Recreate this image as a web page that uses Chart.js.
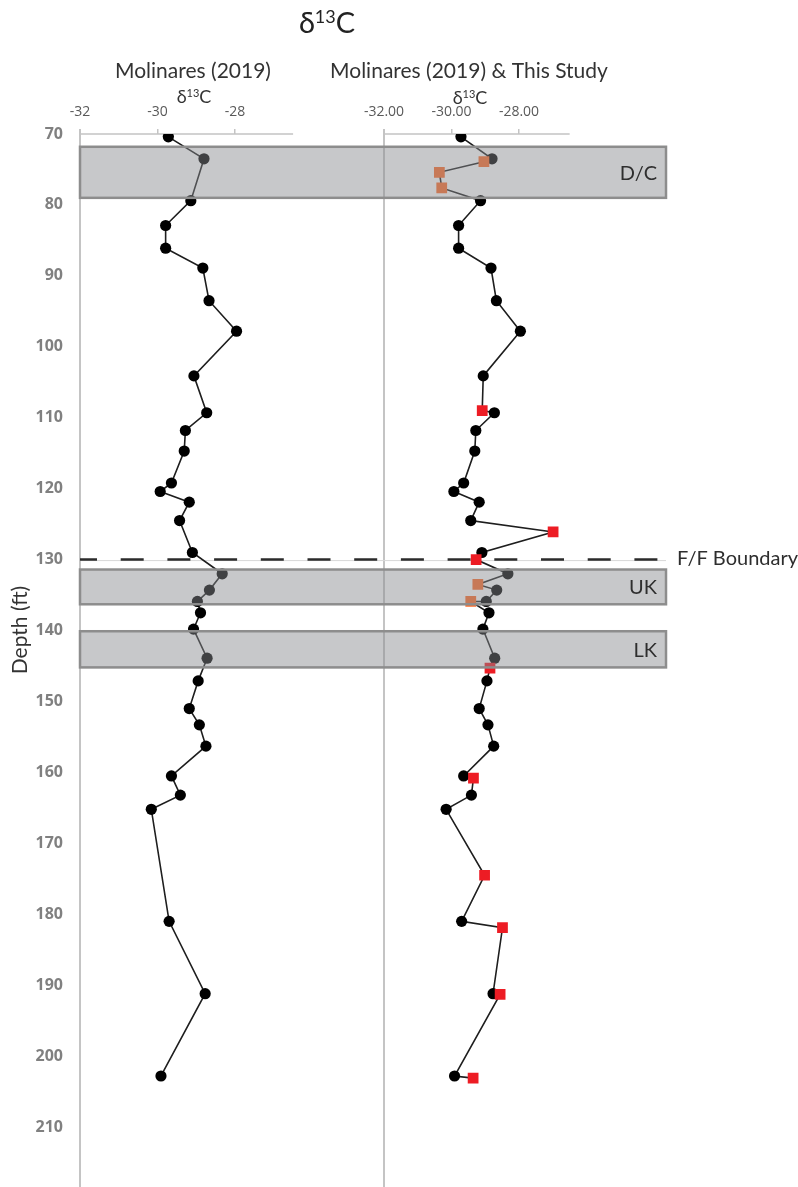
<!DOCTYPE html>
<html>
<head>
<meta charset="utf-8">
<title>δ13C profile</title>
<script src="https://cdn.jsdelivr.net/npm/chart.js@4.4.1/dist/chart.umd.min.js"></script>
<style>
    html, body { margin: 0; padding: 0; background: #fff; }
    #contenedor { position: relative; width: 798px; height: 1187px; }
</style>
</head>
<body>
<div id="contenedor"><canvas id="grafico-d13c"></canvas></div>
<script>
// Molinares (2019) data: depth (ft) and d13C
const molinaresDepth = [70.4, 73.5, 79.4, 82.9, 86.1, 88.9, 93.5, 97.8, 104.1, 109.3, 111.8, 114.7,
    119.2, 120.4, 121.9, 124.5, 129.0, 132.0, 134.3, 135.9, 137.5, 139.8, 143.9, 147.1,
    151.0, 153.3, 156.3, 160.5, 163.2, 165.2, 181.0, 191.2, 202.8];
const molinaresD13C = [-29.72, -28.80, -29.14, -29.79, -29.79, -28.83, -28.67, -27.96, -29.06, -28.73, -29.28, -29.31,
    -29.64, -29.93, -29.18, -29.43, -29.10, -28.33, -28.66, -28.97, -28.89, -29.07, -28.72, -28.95,
    -29.18, -28.92, -28.75, -29.64, -29.41, -30.16, -29.70, -28.77, -29.91];

// This study data
const studyDepth = [73.9, 75.4, 77.6, 109.0, 126.1, 130.0, 133.5, 135.9, 145.3, 160.8, 174.5, 181.9, 191.3, 203.1];
const studyD13C = [-29.04, -30.36, -30.29, -29.09, -26.99, -29.27, -29.22, -29.43, -28.86, -29.35, -29.02, -28.49, -28.56, -29.36];

// Shaded intervals
const zoneNames = ['D/C', 'UK', 'LK'];
const zoneTop = [71.8, 131.4, 140.1];
const zoneBottom = [79.0, 136.3, 145.2];

// F/F boundary
const boundaryDepth = 130.0;
const boundaryLabel = 'F/F Boundary';

// Tick labels
const depthTicks = [70, 80, 90, 100, 110, 120, 130, 140, 150, 160, 170, 180, 190, 200, 210];
const leftTicks = [-32, -30, -28];
const rightTicks = [-32.00, -30.00, -28.00];

// Texts
const mainTitle = ['δ', '13', 'C'];
const leftHeading = 'Molinares (2019)';
const rightHeading = 'Molinares (2019) & This Study';

const FONT = 'Lato, "Open Sans", sans-serif';

// Is a depth inside a shaded interval?
function enZona(depth) {
    return zoneTop.some((t, i) => depth >= t && depth <= zoneBottom[i]);
}

// Draw "δ13C" with a raised 13
function dibujarDelta(ctx, cx, baseline, size, color) {
    const base = `${size}px ${FONT}`;
    const sup = `${Math.round(size * 0.62)}px ${FONT}`;
    ctx.font = base;
    const wd = ctx.measureText(mainTitle[0]).width;
    const wc = ctx.measureText(mainTitle[2]).width;
    ctx.font = sup;
    const ws = ctx.measureText(mainTitle[1]).width;
    let x = cx - (wd + ws + wc) / 2;
    ctx.fillStyle = color;
    ctx.textAlign = 'left';
    ctx.textBaseline = 'alphabetic';
    ctx.font = base;
    ctx.fillText(mainTitle[0], x, baseline);
    x += wd;
    ctx.font = sup;
    ctx.fillText(mainTitle[1], x, baseline - size * 0.36);
    x += ws;
    ctx.font = base;
    ctx.fillText(mainTitle[2], x, baseline);
}

// Plugin for axis lines, boundary, bands and titles
const panelesPlugin = {
    id: 'paneles',
    beforeDatasetsDraw(chart) {
        const { ctx, chartArea, scales } = chart;
        const xl = scales.xl, xr = scales.xr, y = scales.y;
        ctx.save();

        // Vertical panel lines
        ctx.strokeStyle = '#c4c4c4';
        ctx.lineWidth = 2;
        ctx.beginPath();
        [xl.getPixelForValue(-32), xr.getPixelForValue(-32)].forEach(px => {
            ctx.moveTo(px, chartArea.top - 5);
            ctx.lineTo(px, chart.height);
        });
        ctx.stroke();

        // Top axis lines
        ctx.lineWidth = 1.5;
        ctx.beginPath();
        ctx.moveTo(xl.getPixelForValue(-32), chartArea.top);
        ctx.lineTo(xl.getPixelForValue(-26.5), chartArea.top);
        ctx.moveTo(xr.getPixelForValue(-32), chartArea.top);
        ctx.lineTo(xr.getPixelForValue(-26.5), chartArea.top);
        ctx.stroke();

        // F/F boundary
        const yB = y.getPixelForValue(boundaryDepth);
        ctx.strokeStyle = '#d8d8d8';
        ctx.lineWidth = 1;
        ctx.beginPath();
        ctx.moveTo(chartArea.left, yB + 1);
        ctx.lineTo(chartArea.right, yB + 1);
        ctx.stroke();
        ctx.strokeStyle = '#2b2b2b';
        ctx.lineWidth = 2.5;
        ctx.setLineDash([23, 23.7]);
        ctx.lineDashOffset = 6;
        ctx.beginPath();
        ctx.moveTo(chartArea.left, yB);
        ctx.lineTo(chartArea.right - 8, yB);
        ctx.stroke();
        ctx.setLineDash([]);
        ctx.restore();
    },
    afterDatasetsDraw(chart) {
        const { ctx, chartArea, scales } = chart;
        const y = scales.y;
        ctx.save();

        // Shaded intervals drawn over the data
        zoneNames.forEach((name, i) => {
            const top = y.getPixelForValue(zoneTop[i]);
            const bottom = y.getPixelForValue(zoneBottom[i]);
            const left = chartArea.left;
            const right = chartArea.right;
            ctx.fillStyle = 'rgba(136, 138, 142, 0.47)';
            ctx.fillRect(left, top, right - left, bottom - top);
            ctx.strokeStyle = '#8d8d8d';
            ctx.lineWidth = 2.5;
            ctx.strokeRect(left, top, right - left, bottom - top);
            ctx.fillStyle = '#2e2e2e';
            ctx.font = `20px ${FONT}`;
            ctx.textAlign = 'right';
            ctx.textBaseline = 'middle';
            ctx.fillText(name, right - 9, (top + bottom) / 2 + 1);
        });

        // Boundary label
        ctx.fillStyle = '#2e2e2e';
        ctx.font = `20px ${FONT}`;
        ctx.textAlign = 'left';
        ctx.textBaseline = 'middle';
        ctx.fillText(boundaryLabel, chartArea.right + 11, y.getPixelForValue(boundaryDepth) - 1);
        ctx.restore();
    },
    afterDraw(chart) {
        const { ctx } = chart;
        ctx.save();

        // Main title
        dibujarDelta(ctx, 327, 33, 29, '#222');

        // Panel headings
        ctx.fillStyle = '#333';
        ctx.font = `21px ${FONT}`;
        ctx.textAlign = 'center';
        ctx.textBaseline = 'alphabetic';
        ctx.fillText(leftHeading, 193, 78);
        ctx.fillText(rightHeading, 469, 78);

        // Axis titles
        dibujarDelta(ctx, 194, 103, 18, '#333');
        dibujarDelta(ctx, 470, 104, 18, '#333');

        // Depth title
        ctx.translate(20, 630);
        ctx.rotate(-Math.PI / 2);
        ctx.fillStyle = '#333';
        ctx.font = `21px ${FONT}`;
        ctx.textAlign = 'center';
        ctx.textBaseline = 'middle';
        ctx.fillText('Depth (ft)', 0, 0);
        ctx.restore();
    }
};

// Build datasets
const puntosMolinares = molinaresDepth.map((d, i) => ({ x: molinaresD13C[i], y: d }));
const puntosEstudio = studyDepth.map((d, i) => ({ x: studyD13C[i], y: d }));
const puntosCombinados = puntosMolinares.concat(puntosEstudio).sort((a, b) => a.y - b.y);

// Shared tick styling for the top axes
const ejeSuperior = {
    type: 'linear',
    position: 'top',
    stack: 'panels',
    afterFit: scale => { scale.height = 30; },
    grid: { drawOnChartArea: false, drawTicks: true, tickLength: 5, color: '#c4c4c4', lineWidth: 1.5 },
    border: { display: false }
};

new Chart(document.getElementById('grafico-d13c'), {
    type: 'scatter',
    data: {
        datasets: [
            {
                label: leftHeading,
                data: puntosMolinares,
                xAxisID: 'xl',
                yAxisID: 'y',
                showLine: true,
                borderColor: '#1e1e1e',
                borderWidth: 1.6,
                pointRadius: 5.6,
                pointBackgroundColor: '#000',
                pointBorderWidth: 0,
                order: 2
            },
            {
                label: 'line',
                data: puntosCombinados,
                xAxisID: 'xr',
                yAxisID: 'y',
                showLine: true,
                borderColor: '#1e1e1e',
                borderWidth: 1.6,
                pointRadius: 0,
                order: 3
            },
            {
                label: 'Molinares (2019) right',
                data: puntosMolinares,
                xAxisID: 'xr',
                yAxisID: 'y',
                showLine: false,
                pointRadius: 5.6,
                pointBackgroundColor: '#000',
                pointBorderWidth: 0,
                order: 2
            },
            {
                label: 'This Study',
                data: puntosEstudio,
                xAxisID: 'xr',
                yAxisID: 'y',
                showLine: false,
                pointStyle: 'rect',
                pointRadius: 7.6,
                pointBorderWidth: 0,
                pointBackgroundColor: ctx => enZona(studyDepth[ctx.dataIndex]) ? '#ff6a26' : '#ed1c24',
                order: 1
            }
        ]
    },
    options: {
        responsive: true,
        maintainAspectRatio: false,
        animation: false,
        events: [],
        layout: { padding: { top: 104, right: 132, bottom: 0, left: 0 } },
        plugins: {
            legend: { display: false },
            tooltip: { enabled: false }
        },
        scales: {
            y: {
                type: 'linear',
                position: 'left',
                reverse: true,
                min: 70,
                max: 214.7,
                afterFit: scale => { scale.width = 80; },
                afterBuildTicks: scale => { scale.ticks = depthTicks.map(v => ({ value: v })); },
                grid: { display: false, drawTicks: false },
                border: { display: false },
                ticks: {
                    padding: 17,
                    color: '#808080',
                    font: { family: '"Open Sans", sans-serif', size: 16, weight: 'bold' }
                }
            },
            // top boxes are stacked in reverse order, so the right panel comes first
            xr: {
                ...ejeSuperior,
                stackWeight: 283,
                min: -32.03,
                max: -23.645,
                afterBuildTicks: scale => { scale.ticks = rightTicks.map(v => ({ value: v })); },
                ticks: {
                    autoSkip: false,
                    maxRotation: 0,
                    padding: 9,
                    color: '#595959',
                    font: { family: '"Open Sans", sans-serif', size: 14 },
                    callback: v => Number(v).toFixed(2)
                }
            },
            xl: {
                ...ejeSuperior,
                stackWeight: 303,
                min: -32,
                max: -24.18,
                afterBuildTicks: scale => { scale.ticks = leftTicks.map(v => ({ value: v })); },
                ticks: {
                    autoSkip: false,
                    maxRotation: 0,
                    padding: 9,
                    color: '#595959',
                    font: { family: '"Open Sans", sans-serif', size: 14 },
                    callback: v => String(v)
                }
            }
        }
    },
    plugins: [panelesPlugin]
});
</script>
</body>
</html>
